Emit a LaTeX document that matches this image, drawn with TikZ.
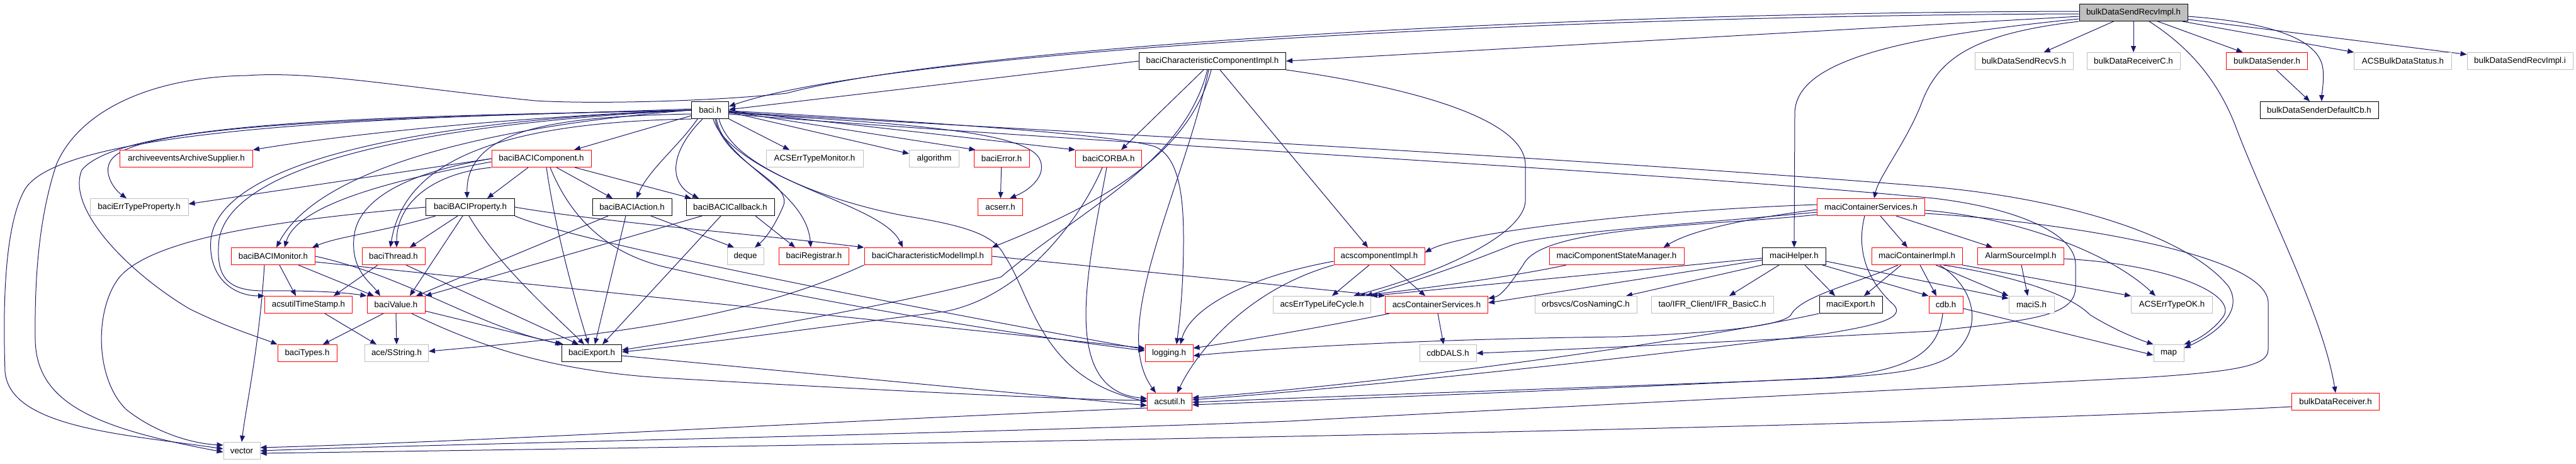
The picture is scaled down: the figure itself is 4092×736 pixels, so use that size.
\documentclass[tikz,border=0pt]{standalone}
\usepackage{fontspec}
\setmainfont{Liberation Sans}
\usetikzlibrary{arrows.meta,backgrounds}
\definecolor{edgec}{HTML}{191970}
\definecolor{boxgray}{HTML}{BFBFBF}
\begin{document}
\begin{tikzpicture}[x=1pt,y=-1pt,
  nd/.style={draw, line width=1pt, fill=white, minimum height=27pt, inner xsep=0pt, inner ysep=0pt, font=\fontsize{13.3}{16}\selectfont, text=black},
  rn/.style={nd, draw=red},
  bn/.style={nd, draw=black},
  gn/.style={nd, draw=boxgray},
  rootbox/.style={nd, draw=black, fill=boxgray},
  edg/.style={draw=edgec, line width=1pt, -{Triangle[length=10pt,width=8pt]}}
]
\useasboundingbox (0,0) rectangle (4092,736);
% ---------------- nodes ----------------
\node[rootbox, minimum width=172pt] (R) at (3389,20) {bulkDataSendRecvImpl.h};
\node[gn, minimum width=156pt] (bSRS) at (3215,97) {bulkDataSendRecvS.h};
\node[gn, minimum width=148pt] (bRC) at (3389,97) {bulkDataReceiverC.h};
\node[rn, minimum width=129pt] (bS) at (3601,97) {bulkDataSender.h};
\node[gn, minimum width=155pt] (ABDS) at (3817,97) {ACSBulkDataStatus.h};
\node[gn, minimum width=168pt] (bSRI) at (4003,97) {bulkDataSendRecvImpl.i};
\node[bn, minimum width=188pt] (bSDC) at (3684,175) {bulkDataSenderDefaultCb.h};
\node[bn, minimum width=233pt] (bCCI) at (1926,97) {baciCharacteristicComponentImpl.h};
\node[bn, minimum width=59pt] (baci) at (1128,175) {baci.h};
\node[rn, minimum width=211pt] (archive) at (296,252) {archiveeventsArchiveSupplier.h};
\node[rn, minimum width=158pt] (bBComp) at (860,252) {baciBACIComponent.h};
\node[gn, minimum width=154pt] (ACSETM) at (1294,252) {ACSErrTypeMonitor.h};
\node[gn, minimum width=79pt] (algo) at (1484,252) {algorithm};
\node[rn, minimum width=88pt] (bErr) at (1591,252) {baciError.h};
\node[rn, minimum width=105pt] (bCORBA) at (1761,252) {baciCORBA.h};
\node[gn, minimum width=156pt] (bETP) at (221,329) {baciErrTypeProperty.h};
\node[bn, minimum width=141pt] (bBProp) at (747,329) {baciBACIProperty.h};
\node[bn, minimum width=126pt] (bBAct) at (1004,329) {baciBACIAction.h};
\node[bn, minimum width=140pt] (bBCb) at (1160,329) {baciBACICallback.h};
\node[rn, minimum width=71pt] (acserr) at (1589,329) {acserr.h};
\node[rn, minimum width=171pt] (mCS) at (2972,329) {maciContainerServices.h};
\node[rn, minimum width=133pt] (bBMon) at (434,407) {baciBACIMonitor.h};
\node[rn, minimum width=100pt] (bThr) at (625,407) {baciThread.h};
\node[gn, minimum width=58pt] (deque) at (1184,407) {deque};
\node[rn, minimum width=111pt] (bReg) at (1293,407) {baciRegistrar.h};
\node[rn, minimum width=202pt] (bCMI) at (1474,407) {baciCharacteristicModelImpl.h};
\node[rn, minimum width=144pt] (acsCI) at (2191,407) {acscomponentImpl.h};
\node[rn, minimum width=214pt] (mCSM) at (2568,407) {maciComponentStateManager.h};
\node[bn, minimum width=101pt] (mH) at (2850,407) {maciHelper.h};
\node[rn, minimum width=144pt] (mCI) at (3045,407) {maciContainerImpl.h};
\node[rn, minimum width=137pt] (ASI) at (3210,407) {AlarmSourceImpl.h};
\node[rn, minimum width=139pt] (aTS) at (490,484) {acsutilTimeStamp.h};
\node[rn, minimum width=92pt] (bVal) at (629,484) {baciValue.h};
\node[gn, minimum width=155pt] (aETLC) at (2100,484) {acsErrTypeLifeCycle.h};
\node[rn, minimum width=163pt] (aCS) at (2282,484) {acsContainerServices.h};
\node[gn, minimum width=162pt] (CosN) at (2519,484) {orbsvcs/CosNamingC.h};
\node[gn, minimum width=194pt] (IFR) at (2720,484) {tao/IFR\_Client/IFR\_BasicC.h};
\node[bn, minimum width=100pt] (mExp) at (2940,484) {maciExport.h};
\node[rn, minimum width=54pt] (cdb) at (3091,484) {cdb.h};
\node[gn, minimum width=72pt] (maciS) at (3227,484) {maciS.h};
\node[gn, minimum width=129pt] (ACSOK) at (3450,484) {ACSErrTypeOK.h};
\node[rn, minimum width=94pt] (bTypes) at (488,561) {baciTypes.h};
\node[gn, minimum width=101pt] (SStr) at (630,561) {ace/SString.h};
\node[bn, minimum width=95pt] (bExp) at (940,561) {baciExport.h};
\node[rn, minimum width=76pt] (logging) at (1857,561) {logging.h};
\node[gn, minimum width=90pt] (cdbDALS) at (2300,561) {cdbDALS.h};
\node[gn, minimum width=48pt] (map) at (3445,561) {map};
\node[rn, minimum width=71pt] (acsutil) at (1858,638) {acsutil.h};
\node[rn, minimum width=139pt] (bDR) at (3710,638) {bulkDataReceiver.h};
\node[gn, minimum width=58pt] (vector) at (384,716) {vector};
% ---------------- edges ----------------
\begin{scope}[on background layer]
\fill[white] (0,0) rectangle (4092,736);
% root
\draw[edg] (R) -- (bSRS);
\draw[edg] (R) -- (bRC);
\draw[edg] (R) -- (bS);
\draw[edg] (R) -- (ABDS);
\draw[edg] (R) -- (bSRI);
\draw[edg] ([yshift=-6]R.east) .. controls (3600,35) and (3685,60) .. (3690,110) .. controls (3692,130) and (3688,150) .. ([xshift=4]bSDC.north);
\draw[edg] (bS) -- (bSDC);
\draw[edg] ([yshift=-6]R.west) -- (bCCI.east);
\draw[edg] ([yshift=-2]R.west) .. controls (2400,25) and (1400,85) .. ([yshift=6]baci.east);
\draw[edg] ([yshift=2]R.west) .. controls (2400,20) and (1500,80) .. (1250,148) .. controls (1150,160) and (950,166) .. (850,160) .. controls (650,140) and (500,112) .. (392,120) .. controls (250,122) and (130,170) .. (90,260) .. controls (60,350) and (55,450) .. (56,540) .. controls (58,640) and (150,680) .. ([yshift=-2]vector.west);
\draw[edg] ([yshift=-10]R.west) .. controls (3000,60) and (2852,100) .. (2851,180) -- (mH.north);
\draw[edg] (R.south west) .. controls (3120,55) and (3075,100) .. (3050,170) .. controls (3025,230) and (2985,280) .. ([xshift=5]mCS.north);
\draw[edg] ([xshift=25]R.south) .. controls (3470,70) and (3520,120) .. (3551,200) .. controls (3600,330) and (3690,500) .. (bDR.north);
% bCCI
\draw[edg] (bCCI.west) -- ([yshift=1]baci.east);
\draw[edg] ([xshift=-14]bCCI.south) -- ([xshift=20]bCORBA.north);
\draw[edg] ([xshift=-6]bCCI.south) .. controls (1880,300) and (1760,520) .. ([xshift=-22]acsutil.north);
\draw[edg] ([xshift=-2]bCCI.south) .. controls (1890,240) and (1760,320) .. (bCMI.north east);
\draw[edg] ([xshift=-8]bCCI.south) .. controls (1880,260) and (1720,330) .. (1590,440) .. controls (1400,490) and (1150,530) .. ([yshift=5]bExp.east);
\draw[edg] ([xshift=12]bCCI.south) -- ([xshift=-18]acsCI.north);
\draw[edg] (bCCI.south east) .. controls (2250,140) and (2420,190) .. (2423,260) -- (2423,320) .. controls (2420,370) and (2300,430) .. ([xshift=-28]aETLC.north east);
% baci
\draw[edg] (baci.west) .. controls (900,182) and (600,205) .. (archive.north east);
\draw[edg] ([yshift=2]baci.west) .. controls (700,188) and (240,190) .. (180,250) .. controls (160,270) and (180,300) .. ([xshift=-20]bETP.north);
\draw[edg] (baci) -- ([xshift=52]bBComp.north);
\draw[edg] ([yshift=-6]baci.west) .. controls (900,185) and (740,200) .. ([xshift=-5]bBProp.north);
\draw[edg] ([xshift=-20]baci.south) .. controls (1080,230) and (1030,270) .. ([xshift=7]bBAct.north);
\draw[edg] ([xshift=-12]baci.south) .. controls (1065,240) and (1060,290) .. ([xshift=-50]bBCb.north);
\draw[edg] (baci.south east) -- ([xshift=-40]ACSETM.north);
\draw[edg] ([yshift=-3]baci.east) -- ([yshift=-6]algo.north west);
\draw[edg] ([yshift=-2]baci.east) -- ([xshift=3]bErr.north west);
\draw[edg] ([yshift=-1]baci.east) -- (bCORBA.north west);
\draw[edg] ([yshift=-4]baci.east) .. controls (1400,195) and (1620,205) .. (1650,250) .. controls (1665,275) and (1640,300) .. ([xshift=15]acserr.north);
\draw[edg] ([xshift=8]baci.south) .. controls (1150,260) and (1265,290) .. (1243,330) .. controls (1230,360) and (1215,380) .. ([xshift=15]deque.north);
\draw[edg] (baci.south west) .. controls (760,195) and (640,270) .. ([xshift=-5]bThr.north);
\draw[edg] (baci.west) .. controls (900,190) and (520,240) .. ([xshift=5]bBMon.north);
\draw[edg] (baci.west) .. controls (700,190) and (350,250) .. (335,380) .. controls (330,440) and (370,470) .. (aTS.north west);
\draw[edg] (baci.west) .. controls (700,195) and (370,255) .. (348,380) .. controls (342,440) and (360,462) .. (420,462) .. controls (500,461) and (550,465) .. (bVal.north west);
\draw[edg] (baci.west) .. controls (700,185) and (200,185) .. (130,270) .. controls (105,330) and (200,430) .. (300,490) .. controls (360,520) and (410,535) .. (bTypes.north west);
\draw[edg] (baci.west) .. controls (600,185) and (100,205) .. (40,300) .. controls (5,360) and (5,500) .. (8,590) .. controls (15,680) and (200,690) .. ([yshift=3]vector.west);
\draw[edg] ([yshift=-1]baci.east) .. controls (1500,195) and (1780,215) .. (1835,233) .. controls (1875,250) and (1880,320) .. (1880,380) .. controls (1880,450) and (1875,500) .. ([xshift=12]logging.north);
\draw[edg] ([xshift=5]baci.south) .. controls (1150,250) and (1300,320) .. (1450,345) .. controls (1540,360) and (1580,375) .. (1595,405) .. controls (1640,470) and (1650,600) .. (acsutil.west);
\draw[edg] ([xshift=10]baci.south) .. controls (1150,260) and (1280,300) .. ([xshift=-5]bReg.north);
\draw[edg] ([xshift=14]baci.south) .. controls (1170,290) and (1400,320) .. ([xshift=-40]bCMI.north);
\draw[edg] ([yshift=-3]baci.east) .. controls (1700,210) and (2500,250) .. (3072,297) .. controls (3300,318) and (3480,380) .. (3540,455) .. controls (3565,495) and (3520,530) .. ([yshift=-6]map.north east);
\draw[edg] ([yshift=-6]baci.east) .. controls (1700,225) and (2600,270) .. (3072,315) .. controls (3200,330) and (3297,370) .. (3297,420) -- (3297,455) .. controls (3297,500) and (3240,508) .. (3068,526) .. controls (2800,540) and (2500,555) .. (cdbDALS.east);
% bBComp
\draw[edg] (bBComp.west) -- ([yshift=5]bETP.east);
\draw[edg] ([xshift=-21]bBComp.south) -- ([xshift=27]bBProp.north);
\draw[edg] ([xshift=24]bBComp.south) -- ([xshift=-31]bBAct.north);
\draw[edg] ([xshift=53]bBComp.south) -- ([xshift=-62]bBCb.north);
\draw[edg] (bBComp.south west) .. controls (690,275) and (630,320) .. ([xshift=5]bThr.north);
\draw[edg] ([yshift=-5]bBComp.west) .. controls (600,290) and (470,330) .. ([xshift=18]bBMon.north);
\draw[edg] (bBComp.west) .. controls (640,275) and (565,320) .. (562,380) .. controls (558,430) and (590,450) .. ([xshift=-25]bVal.north);
\draw[edg] ([xshift=8]bBComp.south) .. controls (880,350) and (905,450) .. ([xshift=-5]bExp.north);
\draw[edg] ([xshift=14]bBComp.south) .. controls (900,330) and (950,400) .. (1060,425) .. controls (1300,480) and (1600,530) .. ([yshift=4]logging.west);
% bBProp
\draw[edg] ([xshift=-20]bBProp.south) -- ([xshift=26]bThr.north);
\draw[edg] ([xshift=-55]bBProp.south) .. controls (600,370) and (540,375) .. ([xshift=-5]bBMon.north east);
\draw[edg] ([xshift=-12]bBProp.south) -- ([xshift=22]bVal.north);
\draw[edg] ([xshift=-2]bBProp.south) .. controls (790,420) and (880,500) .. ([xshift=-12]bExp.north);
\draw[edg] (bBProp.south east) .. controls (900,380) and (1400,480) .. ([yshift=6]logging.west);
\draw[edg] (bBProp.east) .. controls (950,352) and (1200,372) .. (bCMI.north west);
\draw[edg] (bBProp.west) .. controls (500,345) and (250,370) .. (190,440) .. controls (150,490) and (150,600) .. (200,650) .. controls (250,690) and (310,705) .. ([yshift=-5]vector.north west);
% bBAct, bBCb
\draw[edg] ([xshift=30]bBAct.south) -- ([xshift=-18]deque.north);
\draw[edg] ([xshift=-38]bBAct.south) -- ([xshift=32]bVal.north);
\draw[edg] ([xshift=-10]bBAct.south) -- ([xshift=5]bExp.north);
\draw[edg] ([xshift=-45]bBCb.south) -- (bVal.north east);
\draw[edg] ([xshift=-15]bBCb.south) -- ([xshift=17]bExp.north);
\draw[edg] ([xshift=40]bBCb.south) -- ([xshift=-30]bReg.north);
% bBMon, bThr
\draw[edg] ([xshift=-14]bBMon.south) .. controls (412,550) and (390,650) .. (vector.north);
\draw[edg] ([xshift=10]bBMon.south) -- ([xshift=-20]aTS.north);
\draw[edg] ([xshift=40]bBMon.south) -- ([xshift=-35]bVal.north);
\draw[edg] (bBMon.east) .. controls (650,440) and (760,520) .. ([xshift=3]bExp.north west);
\draw[edg] ([yshift=-9]bBMon.east) -- ([yshift=8]logging.west);
\draw[edg] ([xshift=-25]bThr.south) -- ([xshift=40]aTS.north);
\draw[edg] ([xshift=20]bThr.south) -- ([xshift=-21]bExp.north);
% bVal, aTS, bExp
\draw[edg] ([xshift=-20]bVal.south) -- ([xshift=25]bTypes.north);
\draw[edg] (bVal.south) -- (SStr.north);
\draw[edg] ([yshift=-10]bVal.east) -- (bExp.north west);
\draw[edg] ([xshift=25]bVal.south) .. controls (780,560) and (900,590) .. (1050,600) .. controls (1400,620) and (1700,635) .. ([yshift=2]acsutil.west);
\draw[edg] ([xshift=26]aTS.south) -- ([xshift=-32]SStr.north);
\draw[edg] ([yshift=-4]bExp.east) -- ([yshift=-6]acsutil.west);
% bErr, bCORBA, bCMI
\draw[edg] (bErr) -- (acserr);
\draw[edg] ([xshift=-10]bCORBA.south) .. controls (1720,340) and (1630,470) .. (1500,495) .. controls (1300,520) and (1100,548) .. ([yshift=2]bExp.east);
\draw[edg] ([xshift=-3]bCORBA.south) .. controls (1730,420) and (1680,620) .. ([yshift=5]acsutil.west);
\draw[edg] (bCMI.south west) .. controls (1200,500) and (1000,530) .. ([yshift=3]SStr.east);
\draw[edg] (bCMI.east) -- (aCS.north west);
% acsCI, aCS
\draw[edg] ([xshift=-16]acsCI.south) -- ([xshift=16]aETLC.north);
\draw[edg] ([xshift=17]acsCI.south) -- ([xshift=-18]aCS.north);
\draw[edg] ([yshift=-8]acsCI.west) .. controls (1980,440) and (1890,490) .. ([xshift=18]logging.north);
\draw[edg] (acsCI.south west) .. controls (1980,460) and (1900,560) .. ([xshift=12]acsutil.north);
\draw[edg] ([xshift=2]aCS.south) -- ([xshift=-7]cdbDALS.north);
\draw[edg] ([xshift=-75]aCS.south) .. controls (2100,520) and (1950,545) .. ([yshift=8]logging.east);
% mH
\draw[edg] (mH.south west) -- ([xshift=64]CosN.north);
\draw[edg] ([xshift=-24]mH.south) -- ([xshift=27]IFR.north);
\draw[edg] ([xshift=17]mH.south) -- ([xshift=-25]mExp.north);
\draw[edg] ([xshift=45]mH.south) -- (cdb.north west);
\draw[edg] ([yshift=-8]mH.east) -- ([yshift=-4]maciS.north west);
\draw[edg] ([yshift=-6]mH.west) -- ([yshift=3]aCS.east);
\draw[edg] ([yshift=-3]mH.west) -- (aETLC.north east);
% mCSM
\draw[edg] ([xshift=-80]mCSM.south) .. controls (2400,440) and (2250,460) .. ([xshift=-20]aETLC.north east);
% mCS
\draw[edg] ([yshift=4]mCS.west) .. controls (2600,335) and (2320,370) .. ([yshift=6]acsCI.east);
\draw[edg] ([yshift=-4]mCS.west) .. controls (2750,350) and (2680,370) .. ([xshift=-33]mCSM.north east);
\draw[edg] ([yshift=-8]mCS.west) .. controls (2700,355) and (2450,370) .. (2400,390) .. controls (2300,430) and (2220,455) .. ([xshift=-8]aETLC.north east);
\draw[edg] ([yshift=-12]mCS.west) .. controls (2700,360) and (2450,360) .. (2420,420) .. controls (2400,450) and (2385,470) .. ([yshift=10]aCS.east);
\draw[edg] ([xshift=15]mCS.south) -- ([xshift=-15]mCI.north);
\draw[edg] ([xshift=40]mCS.south) -- ([xshift=-45]ASI.north);
\draw[edg] ([yshift=-5]mCS.east) .. controls (3200,345) and (3350,400) .. ([xshift=-26]ACSOK.north);
\draw[edg] ([yshift=-10]mCS.east) .. controls (3250,350) and (3600,400) .. (3603,480) -- (3603,555) .. controls (3603,580) and (3560,590) .. (3400,600) .. controls (3000,620) and (2200,660) .. (2048,669) .. controls (1500,690) and (700,705) .. (vector.east);
\draw[edg] ([xshift=-10]mCS.south) .. controls (2950,390) and (2960,440) .. (3007,483) .. controls (3030,505) and (2980,517) .. (2900,530) .. controls (2500,580) and (2100,620) .. ([yshift=3]acsutil.east);
% mCI
\draw[edg] ([xshift=-25]mCI.south) -- ([xshift=21]mExp.north);
\draw[edg] ([xshift=5]mCI.south) -- ([xshift=-15]cdb.north);
\draw[edg] ([xshift=30]mCI.south) -- (maciS.north west);
\draw[edg] ([xshift=36]mCI.south) .. controls (3135,455) and (3155,520) .. (3100,565) .. controls (3050,600) and (2900,600) .. (2800,605) .. controls (2400,620) and (2100,630) .. ([yshift=-1]acsutil.east);
\draw[edg] ([xshift=42]mCI.south) .. controls (3210,440) and (3290,470) .. (3320,500) .. controls (3360,525) and (3400,540) .. (map.north west);
\draw[edg] (mCI.south east) -- (ACSOK.north west);
\draw[edg] ([xshift=-30]mCI.south) .. controls (2950,450) and (2860,470) .. (2845,500) .. controls (2830,520) and (2700,530) .. (2570,535) .. controls (2300,538) and (2050,550) .. ([yshift=-4]logging.east);
% cdb, mExp, ASI
\draw[edg] ([xshift=-5]cdb.south) .. controls (3080,550) and (3050,590) .. (2900,600) .. controls (2500,620) and (2100,635) .. ([yshift=-5]acsutil.east);
\draw[edg] ([yshift=-6]cdb.east) -- ([yshift=-3]map.west);
\draw[edg] (mExp.south west) .. controls (2700,540) and (2200,610) .. ([yshift=6]acsutil.east);
\draw[edg] ([xshift=1]ASI.south) -- ([xshift=-6]maciS.north);
\draw[edg] ([yshift=-4]ASI.east) .. controls (3450,420) and (3560,470) .. (3530,505) .. controls (3515,525) and (3490,540) .. (map.north east);
% bDR, acsutil
\draw[edg] ([yshift=-8]bDR.west) .. controls (3000,680) and (1500,705) .. ([yshift=-4]vector.east);
\draw[edg] ([yshift=-10]acsutil.west) .. controls (1400,665) and (800,700) .. ([yshift=5]vector.east);
\end{scope}
\end{tikzpicture}
\end{document}
